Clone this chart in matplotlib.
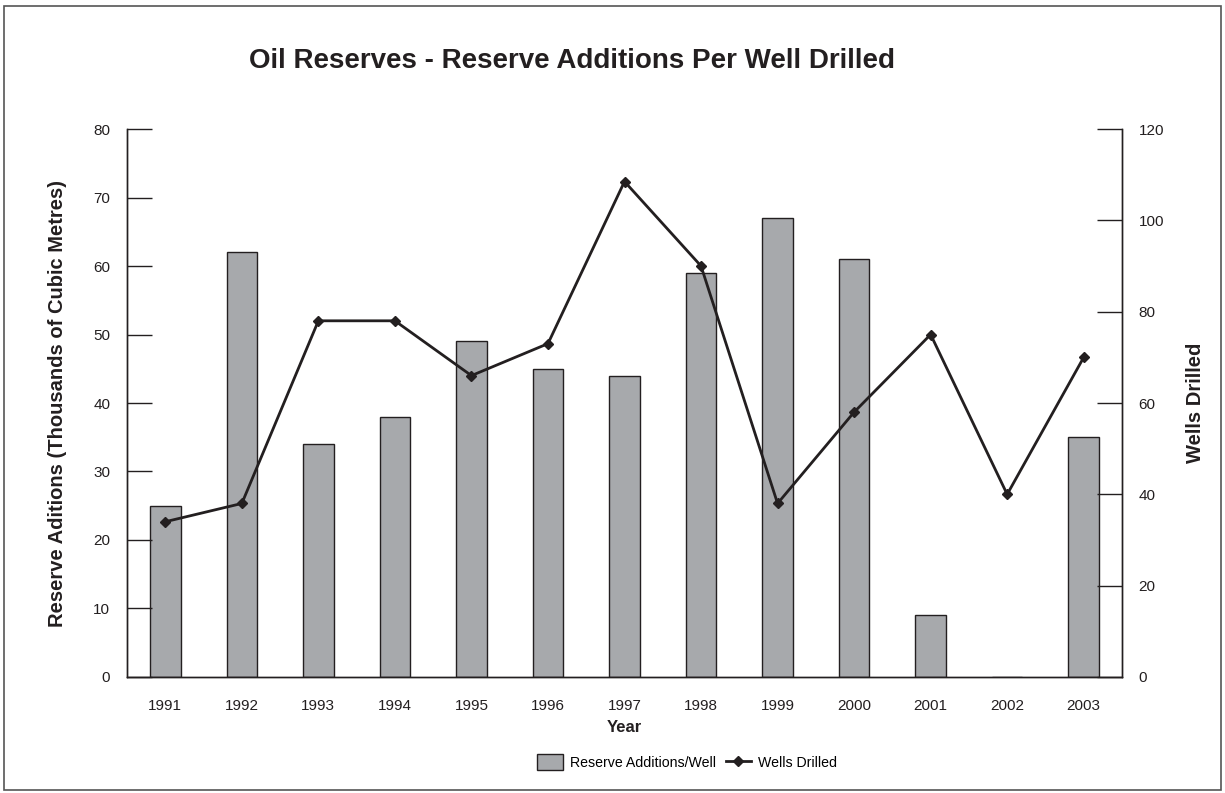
import matplotlib.pyplot as plt
import matplotlib.patches as patches
import numpy as np

plt.rcParams['font.family'] = ['Liberation Sans', 'DejaVu Sans']

years = ['1991', '1992', '1993', '1994', '1995', '1996', '1997',
         '1998', '1999', '2000', '2001', '2002', '2003']
reserve_per_well = [25, 62, 34, 38, 49, 45, 44, 59, 67, 61, 9, 0, 35]
wells_drilled = [34, 38, 78, 78, 66, 73, 108.5, 90, 38, 58, 75, 40, 70]

bar_color = '#a7a9ac'
dark = '#231f20'

fig = plt.figure(figsize=(12.25, 7.93), dpi=100)
ax = fig.add_axes([0.1037, 0.1463, 0.8122, 0.691])
ax2 = ax.twinx()

x = np.arange(len(years))
bars = ax.bar(x, reserve_per_well, width=0.4, color=bar_color,
              edgecolor=dark, linewidth=1, label='Reserve Additions/Well')
line, = ax2.plot(x, wells_drilled, color=dark, linewidth=2, marker='D',
                 markersize=5, label='Wells Drilled')

ax.set_xlim(-0.5, 12.5)
ax.set_ylim(0, 80)
ax2.set_ylim(0, 120)
ax.set_yticks(range(0, 81, 10))
ax2.set_yticks(range(0, 121, 20))
ax.set_xticks(x)
ax.set_xticklabels(years)

ax.spines['top'].set_visible(False)
ax2.spines['top'].set_visible(False)
for a in (ax, ax2):
    for s in a.spines.values():
        s.set_color(dark)
        s.set_linewidth(1)

ax.tick_params(axis='y', direction='in', length=18, width=1, color=dark,
               labelsize=11, pad=12, labelcolor=dark)
ax2.tick_params(axis='y', direction='in', length=18, width=1, color=dark,
                labelsize=11, pad=12, labelcolor=dark)
ax.tick_params(axis='x', length=0, labelsize=11, pad=16, labelcolor=dark)

ax.set_xlabel('Year', fontsize=12, fontweight='bold', labelpad=5, color=dark)
ax.set_ylabel('Reserve Aditions (Thousands of Cubic Metres)', fontsize=14.5,
              fontweight='bold', labelpad=19, color=dark)
ax2.set_ylabel('Wells Drilled', fontsize=14.5, fontweight='bold',
               labelpad=16, color=dark)

fig.text(0.467, 0.923, 'Oil Reserves - Reserve Additions Per Well Drilled',
         ha='center', va='center', fontsize=20, fontweight='bold', color=dark)

fig.legend(handles=[bars, line], loc='center', bbox_to_anchor=(0.561, 0.039),
           ncol=2, frameon=False, fontsize=10.2, handlelength=1.8,
           handleheight=1.3, columnspacing=0.7, handletextpad=0.5)

fig.patches.append(patches.Rectangle((0.0035, 0.004), 0.993, 0.988,
                                     transform=fig.transFigure, fill=False,
                                     edgecolor='#555555', linewidth=1.2))

fig.savefig('out.png', dpi=100)
